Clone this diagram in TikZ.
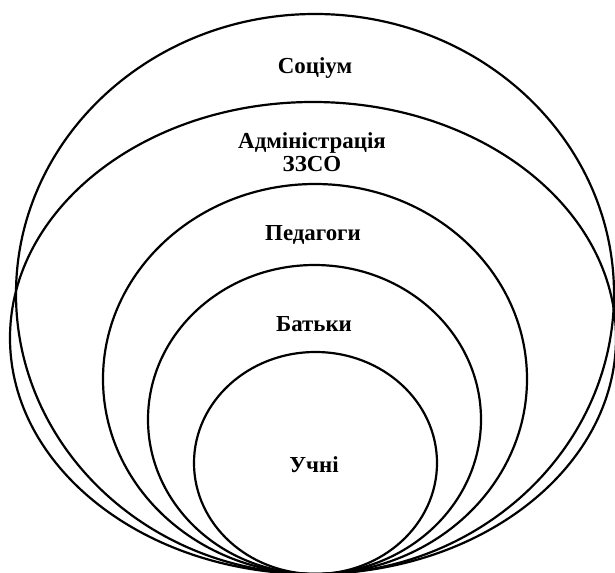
\documentclass[tikz,border=0pt]{standalone}
\usepackage{fontspec}
\setmainfont{Liberation Serif}
\begin{document}
\begin{tikzpicture}[x=1bp,y=-1bp,
  ring/.style={draw=black, line width=2.2bp},
  lbl/.style={font=\fontsize{23}{22.5}\selectfont\bfseries, align=center, inner sep=0pt}]
\useasboundingbox (0,0) rectangle (615,573);
\draw[ring] (315,294) ellipse [x radius=299bp, y radius=280bp];
\draw[ring] (313,338) ellipse [x radius=303bp, y radius=236bp];
\draw[ring] (315,379) ellipse [x radius=212bp, y radius=195bp];
\draw[ring] (314.5,419.5) ellipse [x radius=166.5bp, y radius=154.5bp];
\draw[ring] (315.5,463) ellipse [x radius=121.5bp, y radius=111bp];
\node[lbl] (socium) at (315,68) {Соціум};
\node[lbl] (admin) at (312,152) {Адміністрація\\ЗЗСО};
\node[lbl] (ped) at (313,235) {Педагоги};
\node[lbl] (batky) at (314,324) {Батьки};
\node[lbl] (uchni) at (314,465) {Учні};
\end{tikzpicture}
\end{document}
